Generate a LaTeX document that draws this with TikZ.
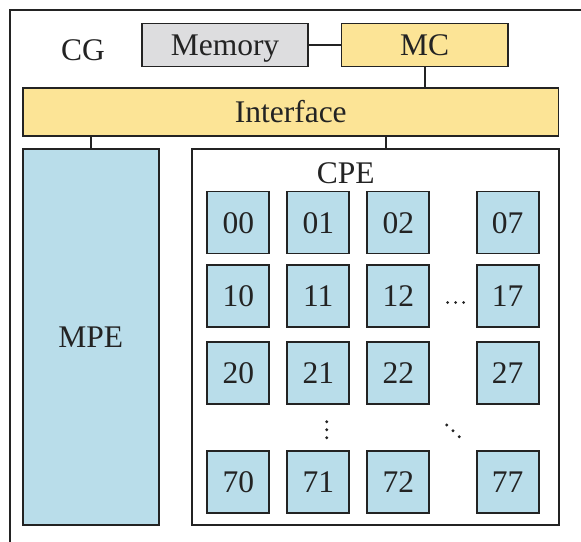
\documentclass[tikz,border=0pt]{standalone}
\usepackage{fontspec}
\setmainfont{Liberation Serif}
\definecolor{pblue}{RGB}{185,221,234}
\definecolor{pyellow}{RGB}{252,228,150}
\definecolor{pgray}{RGB}{221,221,223}
\definecolor{pline}{RGB}{35,35,35}
\begin{document}
\begin{tikzpicture}[x=1pt,y=-1pt,
  box/.style={draw=pline,line width=1.9pt,inner sep=0pt,text=pline,text height=21pt,text depth=0pt,font=\fontsize{31.5}{33}\selectfont},
  cell/.style={box,fill=pblue,minimum width=62pt,minimum height=62pt},
  conn/.style={draw=pline,line width=1.9pt},
  dotc/.style={fill=pline,draw=none}]
\useasboundingbox (0,0) rectangle (581,541);
\clip (0,0) rectangle (581,541);
\fill[white] (0,0) rectangle (581,541);
\draw[pline,line width=2pt] (10,10) rectangle (600,560);
\node[text=pline,font=\fontsize{31.5}{33}\selectfont] (cg) at (83,50) {CG};
\node[box,fill=pgray,minimum width=166pt,minimum height=43pt] (mem) at (225,45) {Memory};
\node[box,fill=pyellow,minimum width=166.5pt,minimum height=43pt] (mc) at (424.75,45) {MC};
\node[box,fill=pyellow,minimum width=535.5pt,minimum height=48pt] (intf) at (290.75,112) {Interface};
\node[box,fill=pblue,minimum width=136pt,minimum height=376pt] (mpe) at (90.7,337) {MPE};
\node[box,fill=white,minimum width=367pt,minimum height=376pt] (cpe) at (375.8,337.4) {};
\node[text=pline,font=\fontsize{31.5}{33}\selectfont] (cpel) at (345.7,173) {CPE};
\coordinate (cpex) at (386,0);
\draw[conn] (mem.east) -- (mc.west);
\draw[conn] (mc.south) -- (mc.south |- intf.north);
\draw[conn] (mpe.north) -- (mpe.north |- intf.south);
\draw[conn] (cpe.north -| cpex) -- (intf.south -| cpex);
\foreach \r/\y in {0/222.5,1/296.3,2/373.2,7/481.7}{
  \foreach \c/\x in {0/238.3,1/318.3,2/398.3,7/507.7}{
    \node[cell] (c\r\c) at (\x,\y) {\r\c};
  }
}
\foreach \x in {447.5,455.5,463.5} \fill[dotc] (\x,302.5) circle (1.5pt);
\foreach \y in {421.7,429.7,437.7} \fill[dotc] (326.7,\y) circle (1.6pt);
\foreach \x/\y in {446.7/425,453/430.8,459.3/436.7} \fill[dotc] (\x,\y) circle (1.6pt);
\end{tikzpicture}
\end{document}
